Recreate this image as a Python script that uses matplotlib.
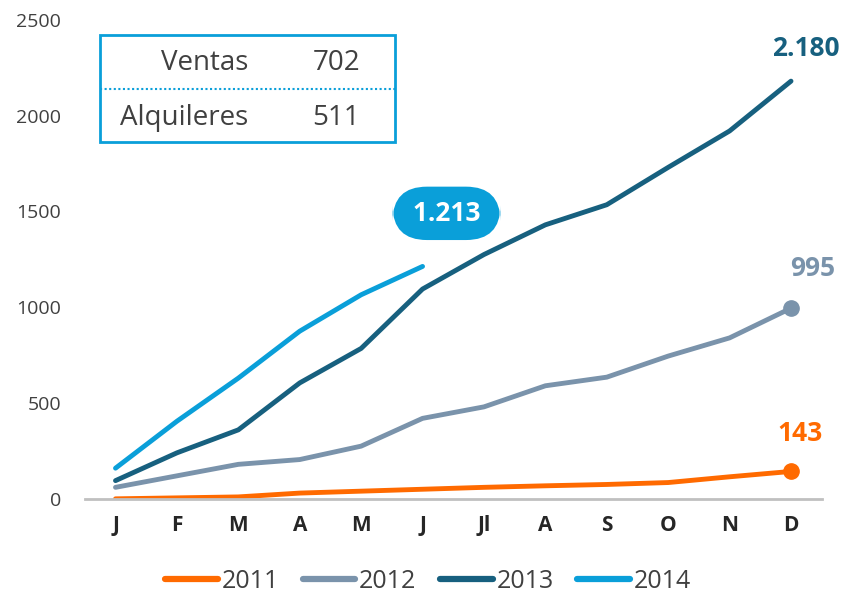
import matplotlib.pyplot as plt
from matplotlib.patches import Rectangle
from matplotlib.lines import Line2D

plt.rcParams['font.family'] = ['Open Sans', 'DejaVu Sans']

months = ['J', 'F', 'M', 'A', 'M', 'J', 'Jl', 'A', 'S', 'O', 'N', 'D']
v2011 = [0, 5, 10, 30, 40, 50, 60, 68, 75, 85, 115, 143]
v2012 = [60, 120, 180, 205, 275, 420, 480, 590, 635, 745, 840, 995]
v2013 = [95, 240, 360, 605, 785, 1095, 1275, 1430, 1535, 1730, 1920, 2180]
v2014 = [160, 405, 630, 875, 1065, 1213]
years = ['2011', '2012', '2013', '2014']

box_labels = ['Ventas', 'Alquileres']
box_values = [702, 511]

C2011 = '#FF6A00'
C2012 = '#7A93AB'
C2013 = '#17607F'
C2014 = '#0A9FD9'
TXT = '#404040'

fig = plt.figure(figsize=(8.48, 6.01), dpi=100)
ax = fig.add_axes([0.1, 0.17, 0.869, 0.797])

x = range(len(months))
lw = 3.5
ax.plot(x, v2011, color=C2011, lw=lw, solid_capstyle='round')
ax.plot(x, v2012, color=C2012, lw=lw, solid_capstyle='round')
ax.plot(x, v2013, color=C2013, lw=lw, solid_capstyle='round')
ax.plot(range(len(v2014)), v2014, color=C2014, lw=lw, solid_capstyle='round')
ax.plot(11, v2011[-1], 'o', color=C2011, ms=11)
ax.plot(11, v2012[-1], 'o', color=C2012, ms=11)

ax.set_xlim(-0.5, 11.5)
ax.set_ylim(0, 2500)
ax.set_xticks(list(x))
ax.set_xticklabels(months, fontsize=15, fontweight='bold', color='#262626')
ax.set_yticks([0, 500, 1000, 1500, 2000, 2500])
ax.tick_params(axis='y', length=0, labelsize=14, labelcolor=TXT, pad=17)
ax.tick_params(axis='x', length=0, pad=12)
for s in ['top', 'right', 'left']:
    ax.spines[s].set_visible(False)
ax.spines['bottom'].set_color('#C0C0C0')
ax.spines['bottom'].set_linewidth(2)

# end labels
ax.text(11.24, 2350, f'{v2013[-1]:,}'.replace(',', '.'), color=C2013, fontsize=19,
        fontweight='bold', ha='center', va='center')
ax.text(11.35, 1200, f'{v2012[-1]}', color=C2012, fontsize=19,
        fontweight='bold', ha='center', va='center')
ax.text(11.15, 340, f'{v2011[-1]}', color=C2011, fontsize=19,
        fontweight='bold', ha='center', va='center')
ax.text(5.39, 1490, ' ' + f'{v2014[-1]:,}'.replace(',', '.') + ' ', color='white',
        fontsize=19, fontweight='bold', ha='center', va='center',
        bbox=dict(boxstyle='round,pad=0.5,rounding_size=1.3', fc=C2014, ec='none'))

# summary box
bx0, by0, bx1, by1 = 100 / 848, 1 - 142 / 601, 395 / 848, 1 - 35 / 601
fig.patches.append(Rectangle((bx0, by0), bx1 - bx0, by1 - by0, transform=fig.transFigure,
                             fill=False, ec=C2014, lw=2))
mid = (by0 + by1) / 2
fig.lines.append(Line2D([bx0, bx1], [mid, mid], transform=fig.transFigure,
                        color=C2014, lw=1.5, ls=(0, (1, 1.2))))
for i, (lab, val) in enumerate(zip(box_labels, box_values)):
    yy = 1 - (63 if i == 0 else 118) / 601
    fig.text(248 / 848, yy, lab, ha='right', va='center', fontsize=20, color=TXT)
    fig.text(360 / 848, yy, str(val), ha='right', va='center', fontsize=20, color=TXT)

handles = [Line2D([], [], color=c, lw=4.5, solid_capstyle='round')
           for c in [C2011, C2012, C2013, C2014]]
leg = fig.legend(handles, years, loc='lower center', bbox_to_anchor=(0.505, -0.025), ncol=4,
                 frameon=False, fontsize=18, handlelength=2.1, handletextpad=0.15,
                 columnspacing=0.95)
for t in leg.get_texts():
    t.set_color(TXT)

fig.savefig('out.png', dpi=100)
